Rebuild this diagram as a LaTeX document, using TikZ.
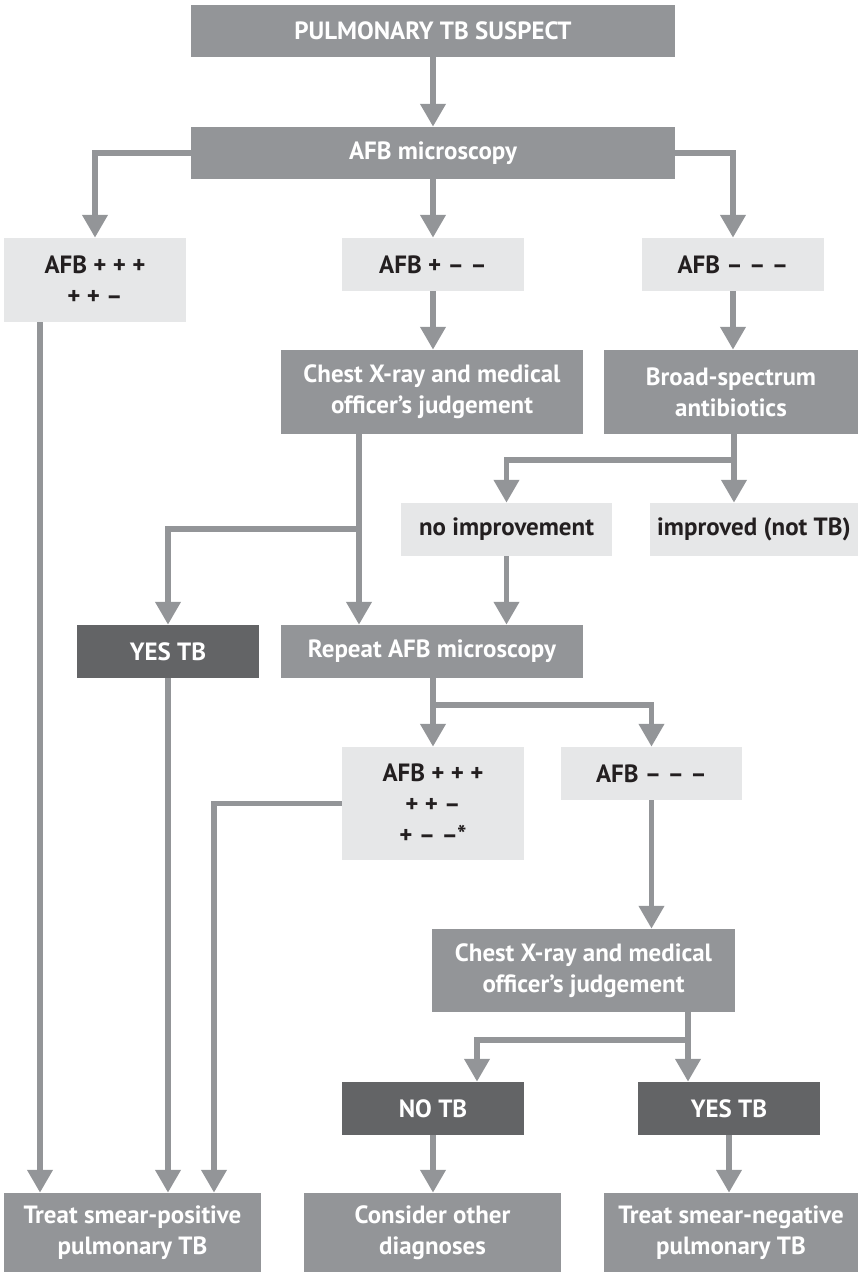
\documentclass[tikz,border=0pt]{standalone}
\usepackage{fontspec}
\setmainfont{PT Sans}
\usetikzlibrary{arrows.meta}

\definecolor{tbmid}{HTML}{939598}
\definecolor{tblight}{HTML}{E6E7E8}
\definecolor{tbdark}{HTML}{636466}
\definecolor{tbink}{HTML}{231F20}

\begin{document}
\begin{tikzpicture}[x=0.02cm,y=-0.02cm,
    box/.style={rectangle,inner sep=0pt,align=center,
        font=\fontsize{14.2}{17.6}\selectfont\bfseries},
    sz/.style 2 args={minimum width=#1*0.02cm,minimum height=#2*0.02cm},
    mid/.style={box,fill=tbmid,text=white},
    light/.style={box,fill=tblight,text=tbink},
    dark/.style={box,fill=tbdark,text=white},
    flow/.style={draw=tbmid,line width=3pt,-{Triangle[width=14pt,length=13pt]}},
    line/.style={draw=tbmid,line width=3pt}]
\useasboundingbox (0,0) rectangle (858,1272);

\node[mid,sz={484}{52}] (1) at (433,31) {PULMONARY TB SUSPECT};
\node[mid,sz={484}{52}] (2) at (433,153) {AFB microscopy};
\node[light,sz={182}{84}] (3) at (95,280) {AFB + + +\\+ + --};
\node[light,sz={182}{53}] (4) at (433,264.5) {AFB + -- --};
\node[light,sz={182}{53}] (5) at (733,264.5) {AFB -- -- --};
\node[mid,sz={302}{84}] (6) at (432,392) {Chest X-ray and medical\\officer’s judgement};
\node[mid,sz={254}{84}] (7) at (731,392) {Broad-spectrum\\antibiotics};
\node[light,sz={211}{53}] (8) at (506.5,529.5) {no improvement};
\node[light,sz={208}{53}] (9) at (754,529.5) {improved (not TB)};
\node[dark,sz={182}{53}] (10) at (168,651.5) {YES TB};
\node[mid,sz={302}{53}] (11) at (432,651.5) {Repeat AFB microscopy};
\node[light,sz={182}{113}] (12) at (433,803.5) {AFB + + +\\+ + --\\+ -- --*};
\node[light,sz={181}{53}] (13) at (651.5,773.5) {AFB -- -- --};
\node[mid,sz={303}{83}] (14) at (583.5,970.5) {Chest X-ray and medical\\officer’s judgement};
\node[dark,sz={182}{53}] (15) at (433,1108.5) {NO TB};
\node[dark,sz={182}{53}] (16) at (729,1108.5) {YES TB};
\node[mid,sz={257}{79}] (17) at (132.5,1232.5) {Treat smear-positive\\pulmonary TB};
\node[mid,sz={257}{79}] (18) at (432.5,1232.5) {Consider other\\diagnoses};
\node[mid,sz={254}{79}] (19) at (731,1232.5) {Treat smear-negative\\pulmonary TB};

\coordinate (l1) at (40,322);
\coordinate (b) at (734,460);
\coordinate (c) at (359,529);
\coordinate (r) at (433,705);
\coordinate (p) at (214,803.5);
\coordinate (d) at (688,1040);
\coordinate (e) at (477,1040);

\draw[flow] (1) -- (2);
\draw[flow] (2.west) -| (3.north);
\draw[flow] (2) -- (4);
\draw[flow] (2.east) -| (5.north);
\draw[flow] (4.south) -- (4.south |- 6.north);
\draw[flow] (5.south) -- (5.south |- 7.north);
\draw[line] (7.south -| b) -- (b);
\draw[flow] (b) -| (8.north);
\draw[flow] (b) -- (b |- 9.north);
\draw[line] (c |- 6.south) -- (c);
\draw[flow] (c) -| (10.north);
\draw[flow] (c) -- (c |- 11.north);
\draw[flow] (8.south) -- (8.south |- 11.north);
\draw[line] (11.south -| r) -- (r);
\draw[flow] (r) -| (13.north);
\draw[flow] (r) -- (r |- 12.north);
\draw[flow] (12.west) -- (p) -- (p |- 17.north);
\draw[flow] (13.south) -- (13.south |- 14.north);
\draw[line] (d |- 14.south) -- (d);
\draw[flow] (d) -- (e) -- (e |- 15.north);
\draw[flow] (d) -- (d |- 16.north);
\draw[flow] (15.south) -- (15.south |- 18.north);
\draw[flow] (16.south) -- (16.south |- 19.north);
\draw[flow] (l1) -- (l1 |- 17.north);
\draw[flow] (10.south) -- (10.south |- 17.north);
\end{tikzpicture}
\end{document}
